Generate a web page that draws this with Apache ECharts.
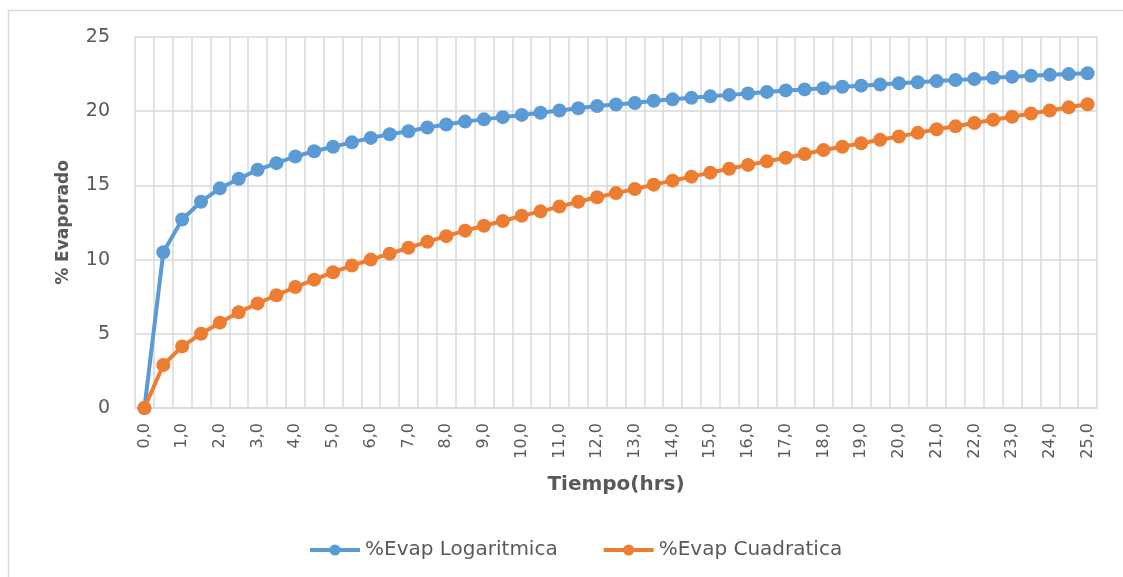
<!DOCTYPE html>
<html>
<head>
<meta charset="utf-8">
<title>% Evaporado vs Tiempo</title>
<script src="https://cdn.jsdelivr.net/npm/echarts@6/dist/echarts.min.js"></script>
<style>
  html, body { margin: 0; padding: 0; background: #ffffff; }
  #chart { width: 1123px; height: 577px; }
</style>
</head>
<body>
<div id="chart"></div>
<script>
// Time in hours, every half hour from 0,0 to 25,0 (labels use a decimal comma)
const tiempo = [
  '0,0','0,5','1,0','1,5','2,0','2,5','3,0','3,5','4,0','4,5',
  '5,0','5,5','6,0','6,5','7,0','7,5','8,0','8,5','9,0','9,5',
  '10,0','10,5','11,0','11,5','12,0','12,5','13,0','13,5','14,0','14,5',
  '15,0','15,5','16,0','16,5','17,0','17,5','18,0','18,5','19,0','19,5',
  '20,0','20,5','21,0','21,5','22,0','22,5','23,0','23,5','24,0','24,5',
  '25,0'
];

// % evaporated, logarithmic model
const evapLogaritmica = [
  0, 10.5, 12.7, 13.9, 14.8, 15.45, 16.05, 16.5, 16.95, 17.3,
  17.6, 17.9, 18.2, 18.45, 18.65, 18.9, 19.1, 19.3, 19.45, 19.6,
  19.75, 19.9, 20.05, 20.2, 20.35, 20.45, 20.55, 20.7, 20.8, 20.9,
  21.0, 21.1, 21.2, 21.3, 21.4, 21.47, 21.55, 21.65, 21.72, 21.8,
  21.88, 21.95, 22.03, 22.1, 22.17, 22.25, 22.32, 22.39, 22.45, 22.5,
  22.56
];

// % evaporated, quadratic model
const evapCuadratica = [
  0, 2.9, 4.15, 5.0, 5.75, 6.45, 7.05, 7.6, 8.15, 8.65,
  9.15, 9.6, 10.0, 10.4, 10.8, 11.2, 11.58, 11.95, 12.28, 12.6,
  12.95, 13.25, 13.57, 13.9, 14.2, 14.48, 14.76, 15.05, 15.32, 15.59,
  15.86, 16.12, 16.38, 16.62, 16.86, 17.12, 17.38, 17.6, 17.84, 18.07,
  18.3, 18.54, 18.78, 18.98, 19.2, 19.42, 19.63, 19.85, 20.05, 20.26,
  20.47
];

const FONT = '"DejaVu Sans", "Open Sans", sans-serif';
const TEXT = '#595959';
const GRID = '#d9d9d9';
const BLUE = '#5b9bd5';
const ORANGE = '#ed7d31';

const chart = echarts.init(document.getElementById('chart'), null, { renderer: 'canvas' });

function lineSeries(name, data, color) {
  return {
    name: name,
    type: 'line',
    data: data,
    symbol: 'circle',
    symbolSize: 14,
    showSymbol: true,
    showAllSymbol: true,
    lineStyle: { color: color, width: 4 },
    itemStyle: { color: color, borderWidth: 0 },
    emphasis: { disabled: true },
    animation: false
  };
}

chart.setOption({
  backgroundColor: '#ffffff',
  animation: false,
  textStyle: { fontFamily: FONT, color: TEXT },
  graphic: [{
    type: 'rect',
    shape: { x: 8.5, y: 10.5, width: 1130, height: 600 },
    style: { fill: 'none', stroke: GRID, lineWidth: 1.5 },
    silent: true,
    z: -1
  }],
  grid: { left: 135, right: 26, top: 37, bottom: 169, containLabel: false },
  legend: {
    top: 535,
    left: 303,
    itemWidth: 50,
    itemHeight: 14,
    itemGap: 44,
    lineStyle: { width: 4 },
    textStyle: { fontFamily: FONT, fontSize: 20, lineHeight: 20, color: TEXT },
    data: ['%Evap Logaritmica', '%Evap Cuadratica']
  },
  xAxis: {
    type: 'category',
    data: tiempo,
    boundaryGap: true,
    name: 'Tiempo(hrs)',
    nameLocation: 'middle',
    nameGap: 67,
    nameTextStyle: { fontFamily: FONT, fontSize: 20, fontWeight: 'bold', color: TEXT },
    axisLine: { show: true, lineStyle: { color: GRID, width: 1.5 } },
    axisTick: { show: false },
    axisLabel: {
      interval: 1,
      rotate: 90,
      margin: 15,
      fontFamily: FONT,
      fontSize: 16,
      color: TEXT
    },
    splitLine: { show: true, interval: 0, lineStyle: { color: GRID, width: 1.5 } }
  },
  yAxis: {
    type: 'value',
    min: 0,
    max: 25,
    interval: 5,
    name: '% Evaporado',
    nameLocation: 'middle',
    nameGap: 63,
    nameTextStyle: { fontFamily: FONT, fontSize: 17, fontWeight: 'bold', color: TEXT },
    axisLine: { show: false },
    axisTick: { show: false },
    axisLabel: { margin: 25, fontFamily: FONT, fontSize: 19, color: TEXT },
    splitLine: { show: true, lineStyle: { color: GRID, width: 1.5 } }
  },
  series: [
    lineSeries('%Evap Logaritmica', evapLogaritmica, BLUE),
    lineSeries('%Evap Cuadratica', evapCuadratica, ORANGE)
  ]
});
</script>
</body>
</html>
